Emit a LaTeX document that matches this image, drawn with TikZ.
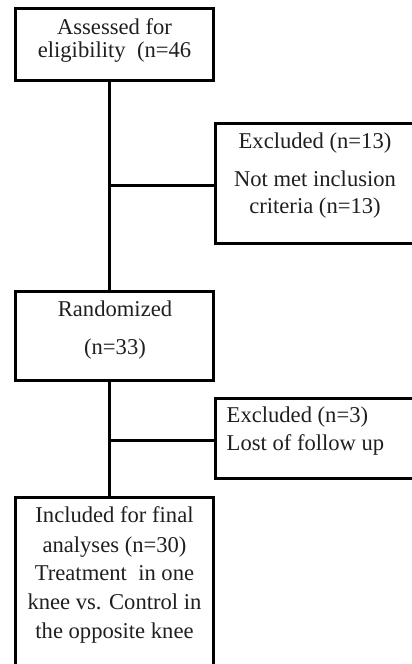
\documentclass[tikz,border=0pt]{standalone}
\usepackage{fontspec}
\setmainfont{Liberation Serif}
\begin{document}
\begin{tikzpicture}[x=1pt,y=-1pt,
  box/.style={draw, line width=3pt, rectangle, inner sep=0pt, fill=none},
  txt/.style={anchor=base, inner sep=0pt, font=\fontsize{22.6}{26}\selectfont, text=black!88},
  txtl/.style={txt, anchor=base west},
  conn/.style={line width=3pt}]
\useasboundingbox (0,0) rectangle (412,664);
\clip (0,0) rectangle (412,664);
% boxes
\node[box, minimum width=198pt, minimum height=71.5pt] (b1) at (114.4,44.3) {};
\node[box, minimum width=197.5pt, minimum height=119.6pt] (e1) at (314.25,183.5) {};
\node[box, minimum width=198pt, minimum height=89.3pt] (b2) at (114.4,336.3) {};
\node[box, minimum width=197.5pt, minimum height=80pt] (e2) at (314.25,438.3) {};
\node[box, minimum width=198pt, minimum height=185pt] (b3) at (114.4,590) {};
% junctions
\coordinate (j1) at (109,185);
\coordinate (j2) at (109,440);
% connectors
\draw[conn] (b1.south -| j1) -- (b2.north -| j1);
\draw[conn] (j1) -- (j1 -| e1.west);
\draw[conn] (b2.south -| j2) -- (b3.north -| j2);
\draw[conn] (j2) -- (j2 -| e2.west);
% texts
\node[txt] (t1a) at (114.5,34) {Assessed for};
\node[txt] (t1b) at (114.5,57) {eligibility\ \ (n=46};
\node[txt] (t2a) at (315,148) {Excluded (n=13)};
\node[txt] (t2b) at (315,186) {Not met inclusion};
\node[txt] (t2c) at (315,213) {criteria (n=13)};
\node[txt] (t3a) at (115,316) {Randomized};
\node[txt] (t3b) at (115,354) {(n=33)};
\node[txtl] (t4a) at (226.5,422) {Excluded (n=3)};
\node[txtl] (t4b) at (226.5,450) {Lost of follow up};
\node[txt] (t5a) at (114.5,522) {Included for final};
\node[txt] (t5b) at (114.5,552) {analyses (n=30)};
\node[txt] (t5c) at (114.5,580) {Treatment\ \ in one};
\node[txt] (t5d) at (114.5,609) {knee vs. Control in};
\node[txt] (t5e) at (114.5,638) {the opposite knee};
\end{tikzpicture}
\end{document}
